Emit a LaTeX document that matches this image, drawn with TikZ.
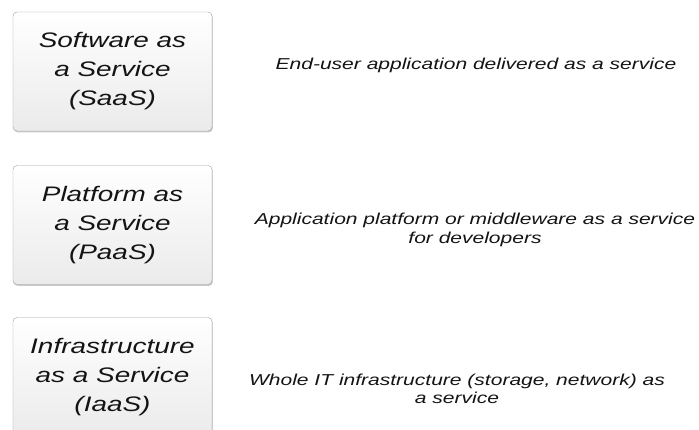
\documentclass[tikz,border=0pt]{standalone}
\usepackage{fontspec}
\newfontfamily\widesans[FakeStretch=1.33]{Liberation Sans}
\usepackage{tikz}
\usetikzlibrary{shadows}

\definecolor{inktext}{HTML}{141414}
\definecolor{boxedge}{HTML}{9C9C9C}

\begin{document}
\begin{tikzpicture}[x=1pt, y=-1pt,
        layerbox/.style={draw=boxedge, rounded corners=4pt, top color=white, bottom color=black!8,
            minimum width=199pt, minimum height=119pt, inner sep=0pt, align=center,
            text=inktext, font=\widesans\itshape\fontsize{21}{29}\selectfont,
            drop shadow={shadow xshift=0.8pt, shadow yshift=-1.4pt, opacity=0.4}},
        desc/.style={align=center, text=inktext, inner sep=0pt,
            font=\widesans\itshape\fontsize{15.8}{18.5}\selectfont}]
        \clip (0, 0) rectangle (699, 430);
        \fill[white] (0, 0) rectangle (699, 430);

        \node[layerbox] at (112.5, 71.5)  (saas) {Software as\\a Service\\(SaaS)};
        \node[layerbox] at (112.5, 225)   (paas) {Platform as\\a Service\\(PaaS)};
        \node[layerbox] at (112.5, 377)   (iaas) {Infrastructure\\as a Service\\(IaaS)};

        \node[desc] at (476, 65)  (saasdesc) {End-user application delivered as a service};
        \node[desc] at (475, 230) (paasdesc) {Application platform or middleware as a service\\for developers};
        \node[desc] at (457, 389) (iaasdesc) {Whole IT infrastructure (storage, network) as\\a service};
    \end{tikzpicture}
\end{document}
